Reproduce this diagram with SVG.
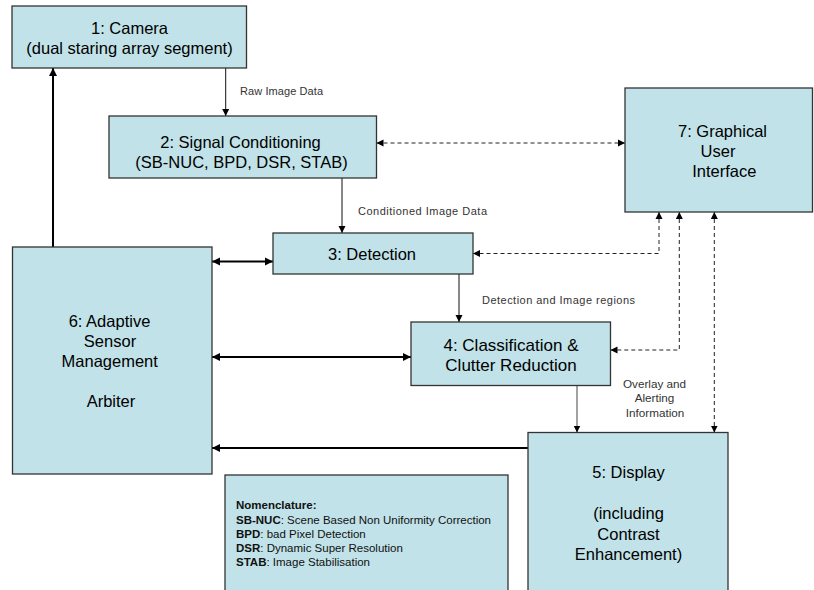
<svg xmlns="http://www.w3.org/2000/svg" width="814" height="590" viewBox="0 0 814 590">
<style>
.box{fill:#C0E2E8;stroke:#333;stroke-width:1.3}
.t{font-family:"Liberation Sans",Arial,sans-serif;font-size:16.5px;fill:#000;text-anchor:middle}
.s{font-family:"Liberation Sans",Arial,sans-serif;font-size:11px;fill:#333}
.n{font-family:"Liberation Sans",Arial,sans-serif;font-size:11.5px;fill:#111}
.n tspan.b{font-weight:bold}
.thin{fill:none;stroke:#111;stroke-width:1}
.thick{fill:none;stroke:#000;stroke-width:2}
.dash{fill:none;stroke:#222;stroke-width:1;stroke-dasharray:4 3}
</style>
<defs>
<marker id="ah" markerUnits="userSpaceOnUse" markerWidth="8" markerHeight="8" refX="7" refY="4" orient="auto-start-reverse">
<path d="M0,0.5 L7,4 L0,7.5 Z" fill="#000"/>
</marker>
<marker id="ahb" markerUnits="userSpaceOnUse" markerWidth="9" markerHeight="9" refX="8" refY="4.5" orient="auto-start-reverse">
<path d="M0,0.5 L8,4.5 L0,8.5 Z" fill="#000"/>
</marker>
</defs>

<g id="connectors">
<path class="thin" d="M225.7,68 V116" marker-end="url(#ah)"/>
<path class="thick" d="M53,247 V68" marker-end="url(#ahb)"/>
<path class="dash" d="M376.5,143 H625" marker-start="url(#ah)" marker-end="url(#ah)"/>
<path class="thin" d="M342,178 V233" marker-end="url(#ah)"/>
<path class="thick" d="M212,261.5 H273" marker-start="url(#ahb)" marker-end="url(#ahb)"/>
<path class="thin" d="M459,274 V322" marker-end="url(#ah)"/>
<path class="thick" d="M212,357 H411" marker-start="url(#ahb)" marker-end="url(#ahb)"/>
<path class="dash" d="M659,212 V253.5 H473" marker-start="url(#ah)" marker-end="url(#ah)"/>
<path class="dash" d="M679.3,212 V350 H610.5" marker-start="url(#ah)" marker-end="url(#ah)"/>
<path class="dash" d="M714.3,212 V432.5" marker-start="url(#ah)" marker-end="url(#ah)"/>
<path class="thin" style="stroke:#444" d="M577,385.5 V432.5" marker-end="url(#ah)"/>
<path class="thick" d="M528,448 H212" marker-end="url(#ahb)"/>
<text class="s" x="240" y="95" textLength="83">Raw Image Data</text>
<text class="s" x="358" y="215" textLength="129">Conditioned Image Data</text>
<text class="s" x="482" y="304" textLength="153">Detection and Image regions</text>
<text class="s" style="font-size:11.7px;text-anchor:middle" x="654.5" y="388">Overlay and</text>
<text class="s" style="font-size:11.7px;text-anchor:middle" x="654.5" y="402">Alerting</text>
<text class="s" style="font-size:11.7px;text-anchor:middle" x="655" y="417">Information</text>
</g>

<g id="node1">
<rect class="box" x="12" y="6" width="234.5" height="62"/>
<text class="t" x="129.5" y="34">1: Camera</text>
<text class="t" x="129.5" y="53.5">(dual staring array segment)</text>
</g>

<g id="node2">
<rect class="box" x="109" y="116" width="267.5" height="62"/>
<text class="t" x="240.5" y="147.5">2: Signal Conditioning</text>
<text class="t" x="241.5" y="167.5">(SB-NUC, BPD, DSR, STAB)</text>
</g>

<g id="node7">
<rect class="box" x="625" y="88" width="187.5" height="124"/>
<text class="t" x="722.5" y="137">7: Graphical</text>
<text class="t" x="718" y="157">User</text>
<text class="t" x="724.3" y="176.5">Interface</text>
</g>

<g id="node3">
<rect class="box" x="273" y="233" width="200" height="41"/>
<text class="t" x="372" y="260">3: Detection</text>
</g>

<g id="node6">
<rect class="box" x="12.5" y="247" width="199.5" height="227"/>
<text class="t" x="109.5" y="326.5">6: Adaptive</text>
<text class="t" x="110" y="346.5">Sensor</text>
<text class="t" x="109.7" y="366.5">Management</text>
<text class="t" x="111" y="406.5">Arbiter</text>
</g>

<g id="node4">
<rect class="box" x="411" y="322" width="199.5" height="63.5"/>
<text class="t" style="font-size:17px" x="511" y="350.5">4: Classification &amp;</text>
<text class="t" style="font-size:17px" x="511" y="370.5">Clutter Reduction</text>
</g>

<g id="node5">
<rect class="box" x="528" y="432.5" width="200" height="170"/>
<text class="t" x="628.5" y="478">5: Display</text>
<text class="t" x="628.5" y="519">(including</text>
<text class="t" x="628.5" y="539.5">Contrast</text>
<text class="t" x="628.5" y="560">Enhancement)</text>
</g>

<g id="nomenclature">
<rect class="box" x="225" y="475" width="283" height="130"/>
<text class="n" x="236" y="509"><tspan class="b">Nomenclature:</tspan></text>
<text class="n" x="236" y="523.5"><tspan class="b">SB-NUC</tspan>: Scene Based Non Uniformity Correction</text>
<text class="n" x="236" y="537.5"><tspan class="b">BPD</tspan>: bad Pixel Detection</text>
<text class="n" x="236" y="552"><tspan class="b">DSR</tspan>: Dynamic Super Resolution</text>
<text class="n" x="236" y="566"><tspan class="b">STAB</tspan>: Image Stabilisation</text>
</g>
</svg>
